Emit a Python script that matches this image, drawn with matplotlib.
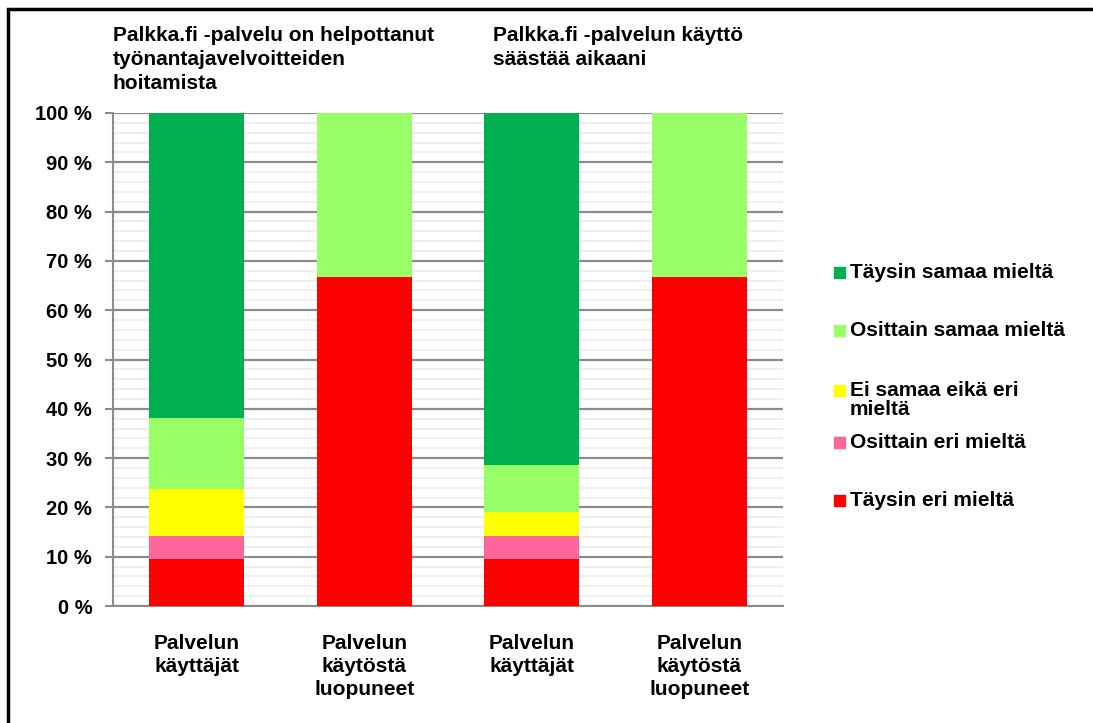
import matplotlib.pyplot as plt
from matplotlib.patches import Rectangle
from matplotlib.ticker import MultipleLocator

plt.rcParams['font.family'] = ['Liberation Sans', 'DejaVu Sans']
plt.rcParams['font.weight'] = 'bold'

# data (share of respondents, %)
kategoriat = ["Palvelun\nkäyttäjät", "Palvelun\nkäytöstä\nluopuneet",
              "Palvelun\nkäyttäjät", "Palvelun\nkäytöstä\nluopuneet"]
sarjat = ["Täysin eri mieltä", "Osittain eri mieltä", "Ei samaa eikä eri\nmieltä",
          "Osittain samaa mieltä", "Täysin samaa mieltä"]
taysin_eri = [9.5, 66.7, 9.5, 66.7]
osittain_eri = [4.8, 0, 4.8, 0]
ei_samaa = [9.5, 0, 4.8, 0]
osittain_samaa = [14.3, 33.3, 9.5, 33.3]
taysin_samaa = [61.9, 0, 71.4, 0]
otsikot = ["Palkka.fi -palvelu on helpottanut\ntyönantajavelvoitteiden\nhoitamista",
           "Palkka.fi -palvelun käyttö\nsäästää aikaani"]
varit = ["#FF0000", "#FF6699", "#FFFF00", "#99FF66", "#00B050"]

arvot = [taysin_eri, osittain_eri, ei_samaa, osittain_samaa, taysin_samaa]

fig = plt.figure(figsize=(10.93, 7.23), dpi=100)
ax = fig.add_axes([113 / 1093, 1 - 606 / 723, 670 / 1093, 493 / 723])

x = list(range(len(kategoriat)))
pohja = [0] * len(kategoriat)
for nimi, vals, vari in zip(sarjat, arvot, varit):
    ax.bar(x, vals, bottom=pohja, width=0.57, color=vari, label=nimi, zorder=3)
    pohja = [p + v for p, v in zip(pohja, vals)]

ax.set_xlim(-0.5, 3.5)
ax.set_ylim(0, 100)
ax.yaxis.set_major_locator(MultipleLocator(10))
ax.yaxis.set_minor_locator(MultipleLocator(2))
ax.set_yticklabels([f"{int(v)} %" for v in ax.get_yticks()])
ax.grid(which='major', axis='y', color='#8c8c8c', linewidth=1.6, zorder=1)
ax.grid(which='minor', axis='y', color='#ececec', linewidth=1.2, zorder=0)
ax.tick_params(axis='y', which='major', length=6, color='#8c8c8c', width=1.5,
               labelsize=14.5, pad=9)
ax.tick_params(axis='y', which='minor', length=0)
ax.set_xticks(x)
ax.set_xticklabels(kategoriat, fontsize=15, linespacing=1.25, va='top')
ax.tick_params(axis='x', length=0, pad=20.5)
for s in ['top', 'right']:
    ax.spines[s].set_visible(False)
ax.spines['left'].set_color('#8c8c8c')
ax.spines['left'].set_linewidth(1.5)
ax.spines['bottom'].set_color('#8c8c8c')
ax.spines['bottom'].set_linewidth(1.5)

# group titles
fig.text(113 / 1093, 1 - 26 / 723, otsikot[0], fontsize=15, fontweight='bold',
         va='top', ha='left', linespacing=1.32)
fig.text(493 / 1093, 1 - 26 / 723, otsikot[1], fontsize=15, fontweight='bold',
         va='top', ha='left', linespacing=1.32)

# legend, top entry = last series
legend_y = [273, 331, 391, 443, 501]
for yy, nimi, vari in zip(legend_y, sarjat[::-1], varit[::-1]):
    fig.patches.append(Rectangle((834 / 1093, 1 - (yy + 5) / 723), 11 / 1093, 11 / 723,
                                 transform=fig.transFigure, color=vari))
    fig.text(850 / 1093, 1 - (yy - 10) / 723, nimi, fontsize=15, fontweight='bold',
             va='top', ha='left', linespacing=1.0)

# outer frame
fig.patches.append(Rectangle((7.5 / 1093, -0.05), 1.2, 1 - 9.5 / 723 + 0.05,
                             transform=fig.transFigure, fill=False,
                             edgecolor='black', linewidth=2.5))

fig.savefig("out.png", dpi=100)
